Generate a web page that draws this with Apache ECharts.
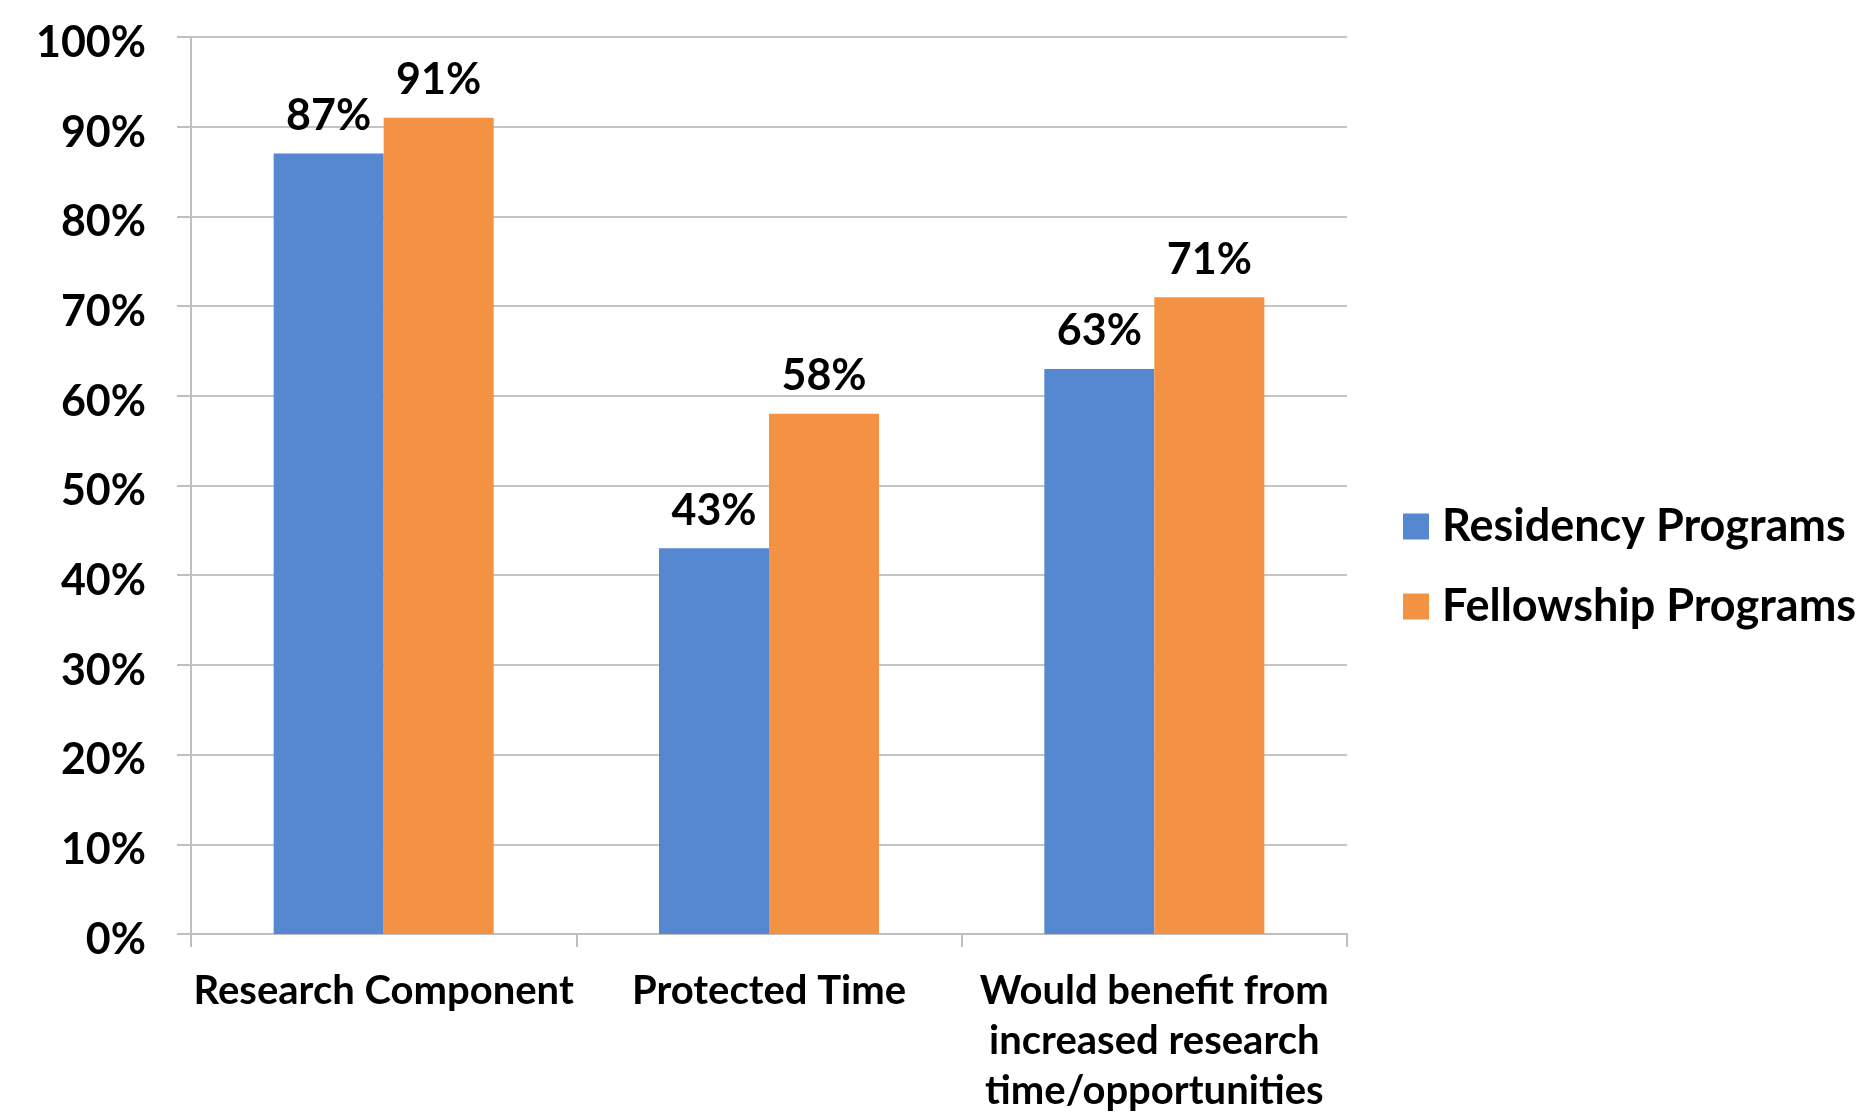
<!DOCTYPE html>
<html>
<head>
<meta charset="utf-8">
<style>
html,body{margin:0;padding:0;background:#fff;}
#chart{width:1861px;height:1112px;}
</style>
<script src="https://cdn.jsdelivr.net/npm/echarts@6/dist/echarts.min.js"></script>
</head>
<body>
<div id="chart"></div>
<script>
var categories = ['Research Component', 'Protected Time', 'Would benefit from\nincreased research\ntime/opportunities'];
var residency = [87, 43, 63];
var fellowship = [91, 58, 71];
var yTicks = [0, 10, 20, 30, 40, 50, 60, 70, 80, 90, 100];

var FONT = 'Lato';
var chart = echarts.init(document.getElementById('chart'), null, {renderer: 'canvas'});
var labelStyle = {
  show: true, position: 'top', distance: 16,
  formatter: '{c}%', fontFamily: FONT, fontWeight: 'bold', fontSize: 43, color: '#000'
};
chart.setOption({
  animation: false,
  backgroundColor: '#fff',
  grid: {left: 191, right: 514, top: 37, bottom: 178, containLabel: false, outerBoundsMode: 'none'},
  legend: {
    orient: 'vertical', left: 1398, top: 499,
    itemWidth: 26, itemHeight: 26, itemGap: 35,
    icon: 'rect',
    textStyle: {fontFamily: FONT, fontWeight: 'bold', fontSize: 45, color: '#000', padding: [0,0,0,8]},
    data: ['Residency Programs', 'Fellowship Programs']
  },
  xAxis: {
    type: 'category', data: categories,
    axisLine: {show: true, lineStyle: {color: '#bfbfbf', width: 2}},
    axisTick: {show: true, length: 13, lineStyle: {color: '#bfbfbf', width: 2}},
    axisLabel: {fontFamily: FONT, fontWeight: 'bold', fontSize: 40, color: '#000', margin: 32, lineHeight: 50, interval: 0}
  },
  yAxis: {
    type: 'value', min: yTicks[0], max: yTicks[yTicks.length - 1], interval: 10,
    axisLine: {show: true, lineStyle: {color: '#bfbfbf', width: 2}},
    axisTick: {show: true, length: 14, lineStyle: {color: '#bfbfbf', width: 2}},
    splitLine: {show: true, lineStyle: {color: '#c4c4c4', width: 2}},
    axisLabel: {
      margin: 45, formatter: '{a|{value}%}',
      rich: {a: {fontFamily: FONT, fontWeight: 'bold', fontSize: 43, color: '#000', padding: [12, 0, 0, 0]}}
    }
  },
  series: [
    {name: 'Residency Programs', type: 'bar', data: residency, barWidth: 110, barGap: '0%',
     itemStyle: {color: '#5588D0'}, label: labelStyle},
    {name: 'Fellowship Programs', type: 'bar', data: fellowship, barWidth: 110, barGap: '0%',
     itemStyle: {color: '#F29242'}, label: labelStyle}
  ]
});
</script>
</body>
</html>
